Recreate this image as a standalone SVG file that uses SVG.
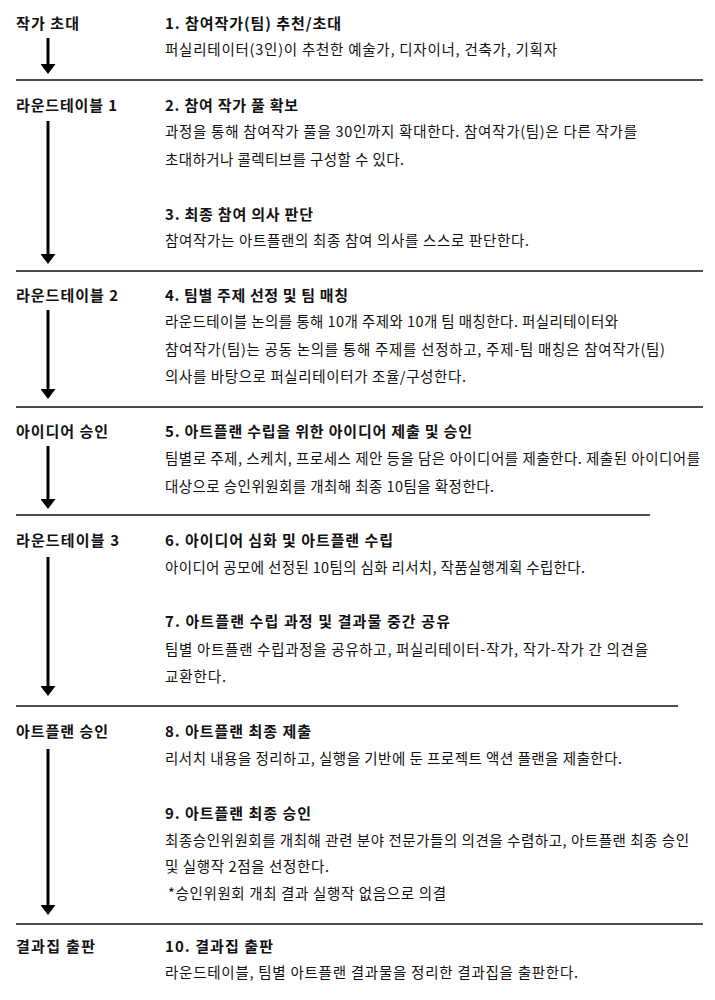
<svg xmlns="http://www.w3.org/2000/svg" width="715" height="1000" viewBox="0 0 715 1000">
<style>
.lab{font-family:"Noto Sans CJK KR","Noto Sans",sans-serif;font-size:15px;font-weight:700;fill:#111}
.tit{font-family:"Noto Sans CJK KR","Noto Sans",sans-serif;font-size:15px;font-weight:700;fill:#111}
.bod{font-family:"Noto Sans CJK KR","Noto Sans",sans-serif;font-size:14.5px;font-weight:400;fill:#111}
.sep{stroke:#111;stroke-width:1.5}
.arr{stroke:#000;stroke-width:3;marker-end:url(#ah)}
</style>
<defs>
<marker id="ah" markerUnits="userSpaceOnUse" markerWidth="10" markerHeight="15" viewBox="0 0 10 15" refX="1" refY="7.5" orient="auto">
<path d="M0,0 L10,7.5 L0,15 z" fill="#000"/>
</marker>
</defs>
<rect width="715" height="1000" fill="#fff"/>
<g id="connectors">
<line class="arr" x1="48" y1="38" x2="48" y2="65"/>
<line class="arr" x1="48" y1="121" x2="48" y2="255"/>
<line class="arr" x1="48" y1="310" x2="48" y2="390"/>
<line class="arr" x1="48" y1="446" x2="48" y2="500"/>
<line class="arr" x1="48" y1="557" x2="48" y2="687"/>
<line class="arr" x1="48" y1="749" x2="48" y2="906"/>
</g>
<g id="separators">
<line class="sep" x1="16" y1="80" x2="703" y2="80"/>
<line class="sep" x1="16" y1="271" x2="703" y2="271"/>
<line class="sep" x1="16" y1="407" x2="703" y2="407"/>
<line class="sep" x1="16" y1="515" x2="650" y2="515"/>
<line class="sep" x1="16" y1="706" x2="678" y2="706"/>
<line class="sep" x1="16" y1="924" x2="703" y2="924"/>
</g>
<g id="stage1">
<text class="lab" x="16" y="29" textLength="63">작가 초대</text>
<text class="tit" x="165" y="29" textLength="176">1. 참여작가(팀) 추천/초대</text>
<text class="bod" x="165" y="55" textLength="392">퍼실리테이터(3인)이 추천한 예술가, 디자이너, 건축가, 기획자</text>
</g>
<g id="stage2">
<text class="lab" x="16" y="111" textLength="101">라운드테이블 1</text>
<text class="tit" x="165" y="111" textLength="133">2. 참여 작가 풀 확보</text>
<text class="bod" x="165" y="137" textLength="472">과정을 통해 참여작가 풀을 30인까지 확대한다. 참여작가(팀)은 다른 작가를</text>
<text class="bod" x="165" y="165" textLength="239">초대하거나 콜렉티브를 구성할 수 있다.</text>
<text class="tit" x="165" y="220" textLength="148">3. 최종 참여 의사 판단</text>
<text class="bod" x="165" y="246" textLength="364">참여작가는 아트플랜의 최종 참여 의사를 스스로 판단한다.</text>
</g>
<g id="stage3">
<text class="lab" x="16" y="301" textLength="102">라운드테이블 2</text>
<text class="tit" x="165" y="301" textLength="183">4. 팀별 주제 선정 및 팀 매칭</text>
<text class="bod" x="165" y="327" textLength="453">라운드테이블 논의를 통해 10개 주제와 10개 팀 매칭한다. 퍼실리테이터와</text>
<text class="bod" x="165" y="355" textLength="500">참여작가(팀)는 공동 논의를 통해 주제를 선정하고, 주제-팀 매칭은 참여작가(팀)</text>
<text class="bod" x="165" y="382" textLength="301">의사를 바탕으로 퍼실리테이터가 조율/구성한다.</text>
</g>
<g id="stage4">
<text class="lab" x="16" y="437" textLength="92">아이디어 승인</text>
<text class="tit" x="165" y="437" textLength="307">5. 아트플랜 수립을 위한 아이디어 제출 및 승인</text>
<text class="bod" x="165" y="464" textLength="535">팀별로 주제, 스케치, 프로세스 제안 등을 담은 아이디어를 제출한다. 제출된 아이디어를</text>
<text class="bod" x="165" y="492" textLength="329">대상으로 승인위원회를 개최해 최종 10팀을 확정한다.</text>
</g>
<g id="stage5">
<text class="lab" x="16" y="546" textLength="103">라운드테이블 3</text>
<text class="tit" x="165" y="546" textLength="228">6. 아이디어 심화 및 아트플랜 수립</text>
<text class="bod" x="165" y="573" textLength="420">아이디어 공모에 선정된 10팀의 심화 리서치, 작품실행계획 수립한다.</text>
<text class="tit" x="165" y="627" textLength="285">7. 아트플랜 수립 과정 및 결과물 중간 공유</text>
<text class="bod" x="165" y="655" textLength="483">팀별 아트플랜 수립과정을 공유하고, 퍼실리테이터-작가, 작가-작가 간 의견을</text>
<text class="bod" x="165" y="682" textLength="61">교환한다.</text>
</g>
<g id="stage6">
<text class="lab" x="16" y="737" textLength="92">아트플랜 승인</text>
<text class="tit" x="165" y="737" textLength="146">8. 아트플랜 최종 제출</text>
<text class="bod" x="165" y="764" textLength="457">리서치 내용을 정리하고, 실행을 기반에 둔 프로젝트 액션 플랜을 제출한다.</text>
<text class="tit" x="165" y="819" textLength="146">9. 아트플랜 최종 승인</text>
<text class="bod" x="165" y="846" textLength="524">최종승인위원회를 개최해 관련 분야 전문가들의 의견을 수렴하고, 아트플랜 최종 승인</text>
<text class="bod" x="165" y="872" textLength="164">및 실행작 2점을 선정한다.</text>
<text class="bod" x="168" y="899" textLength="278">*승인위원회 개최 결과 실행작 없음으로 의결</text>
</g>
<g id="stage7">
<text class="lab" x="16" y="952" textLength="79">결과집 출판</text>
<text class="tit" x="165" y="952" textLength="108">10. 결과집 출판</text>
<text class="bod" x="165" y="978" textLength="413">라운드테이블, 팀별 아트플랜 결과물을 정리한 결과집을 출판한다.</text>
</g>
</svg>
